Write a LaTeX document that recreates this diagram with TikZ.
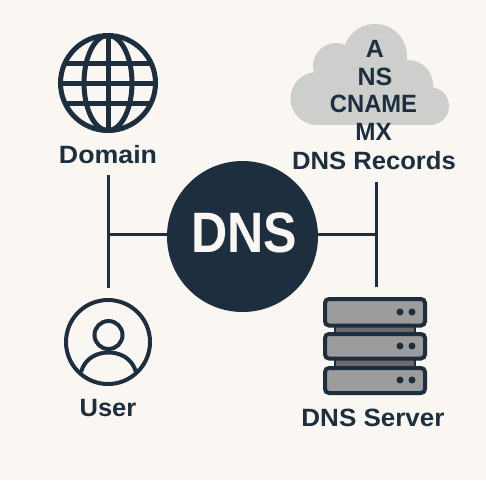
\documentclass[tikz,border=0pt]{standalone}
\usepackage{fontspec}
\setmainfont{Liberation Sans}
\definecolor{ink}{HTML}{1D2F3F}
\definecolor{paper}{HTML}{FAF6F2}
\definecolor{cloudgrey}{HTML}{CECECD}
\definecolor{bay}{HTML}{9C9C9C}
\definecolor{baygap}{HTML}{6B6B6B}
\tikzset{
  x=1pt,y=-1pt,
  lbl/.style={text=ink,font=\fontsize{25}{25}\selectfont\bfseries,inner sep=0pt,anchor=center,transform shape,xscale=#1},
  link/.style={draw=ink,line width=3pt},
  icon/.style={draw=ink,line width=#1},
  bayrect/.style={draw=ink,line width=4pt,fill=bay,rounded corners=4pt},
  gapside/.style={draw=ink,line width=2pt},
}
\begin{document}
\begin{tikzpicture}
\useasboundingbox (0,0) rectangle (486,480);
\fill[paper] (0,0) rectangle (486,480);
% nodes used by connectors
\node[circle,fill=ink,minimum size=151pt,inner sep=0pt] (dns) at (242.5,236.5) {};
\node[text=paper,font=\fontsize{57}{57}\selectfont\bfseries,inner sep=0pt,transform shape,xscale=0.88] (dnstext) at (244,232.5) {DNS};
\node[lbl=1.07,minimum height=40pt] (domain) at (108,155) {Domain};
\node[lbl=1.025,minimum height=42pt] (records) at (374,161) {DNS Records};
\coordinate (leftend) at (108,288);
\coordinate (rightend) at (376.5,287);
\coordinate (leftjoin) at (108,234.5);
\coordinate (rightjoin) at (376.5,234.5);
\draw[link] (domain.south) -- (leftend);
\draw[link] (records.south -| rightend) -- (rightend);
\draw[link] (dns.west |- leftjoin) -- (leftjoin);
\draw[link] (dns.east |- rightjoin) -- (rightjoin);
% globe
\draw[icon=5pt] (108,83) circle (47.5);
\draw[icon=5pt] (108,83) ellipse (24 and 47.5);
\draw[icon=5pt] (108,35.5) -- (108,130.5);
\draw[icon=5pt] (64,63) -- (152,63);
\draw[icon=5pt] (60.5,83) -- (155.5,83);
\draw[icon=5pt] (64,103) -- (152,103);
% cloud
\fill[cloudgrey] (375,56) circle (32);
\fill[cloudgrey] (336,66) circle (23);
\fill[cloudgrey] (317,98.5) circle (26.5);
\fill[cloudgrey] (408,85) circle (25);
\fill[cloudgrey] (430,106) circle (19);
\fill[cloudgrey] (317,90) rectangle (430,125);
\fill[cloudgrey] (336,70) rectangle (408,100);
\node[lbl=1] (recA) at (375,49) {A};
\node[lbl=1] (recNS) at (375,77) {NS};
\node[lbl=0.95] (recCNAME) at (373.5,104) {CNAME};
\node[lbl=0.97] (recMX) at (373.5,132) {MX};
% user
\draw[icon=4pt] (108,342) circle (42);
\draw[icon=4pt] (108.5,335) circle (14);
\draw[icon=4pt] (81,372) .. controls (85,358) and (97,352.5) .. (108.5,352.5) .. controls (120,352.5) and (132,358) .. (136,372);
\node[lbl=1.02] (user) at (108,408) {User};
% server
\fill[baygap] (335,325) rectangle (415,334);
\fill[baygap] (335,358) rectangle (415,368);
\draw[gapside] (335,325) -- (335,334) (415,325) -- (415,334);
\draw[gapside] (335,358) -- (335,368) (415,358) -- (415,368);
\draw[bayrect] (325,299) rectangle (425,325.5);
\draw[bayrect] (325,334) rectangle (425,358.5);
\draw[bayrect] (325,368) rectangle (425,393);
\foreach \yy in {312,346,380} {\fill[ink] (400,\yy) circle (3.5); \fill[ink] (412,\yy) circle (3.5);}
\node[lbl=1.04] (server) at (373,418) {DNS Server};
\end{tikzpicture}
\end{document}
